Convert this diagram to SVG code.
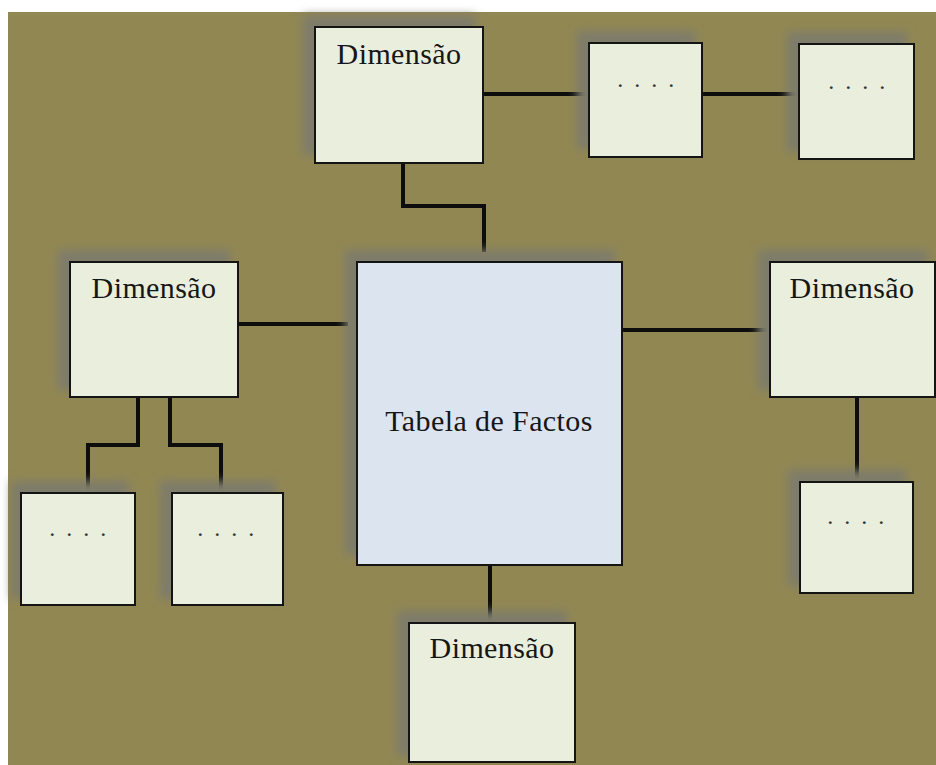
<svg xmlns="http://www.w3.org/2000/svg" width="936" height="765" viewBox="0 0 936 765">
  <defs>
    <filter id="soft" x="-30%" y="-30%" width="160%" height="160%">
      <feGaussianBlur stdDeviation="5"/>
    </filter>
  </defs>
  <style>
    .bg { fill: #918753; }
    .shadow { fill: #7e7b6b; filter: url(#soft); }
    .dim { fill: #e9eedd; stroke: #141414; stroke-width: 2; }
    .fact { fill: #dce4ef; stroke: #141414; stroke-width: 2; }
    .label { font-family: "Liberation Serif", "DejaVu Serif", serif; font-size: 30px; letter-spacing: 0.4px; fill: #161616; text-anchor: middle; }
    .dots { font-family: "Liberation Serif", "DejaVu Serif", serif; font-size: 24px; fill: #333333; text-anchor: middle; letter-spacing: 2.5px; }
    .link { fill: none; stroke: #0d0d0d; stroke-width: 4; }
  </style>

  <rect width="936" height="765" fill="#ffffff"/>
  <rect class="bg" x="8" y="12" width="928" height="753"/>

  <!-- connectors -->
  <g id="connectors">
    <polyline class="link" points="403,163 403,206 484,206 484,252"/>
    <line class="link" x1="483" y1="94" x2="589" y2="94"/>
    <line class="link" x1="702" y1="94" x2="799" y2="94"/>
    <line class="link" x1="238" y1="324" x2="348" y2="324"/>
    <line class="link" x1="622" y1="330" x2="770" y2="330"/>
    <polyline class="link" points="138,397 138,445 88,445 88,493"/>
    <polyline class="link" points="170,397 170,445 221,445 221,493"/>
    <line class="link" x1="857" y1="397" x2="857" y2="482"/>
    <line class="link" x1="490" y1="565" x2="490" y2="622"/>
  </g>

  <!-- fact table -->
  <g id="fact">
    <rect class="shadow" x="345" y="250" width="270" height="305"/>
    <rect class="fact" x="357" y="262" width="265" height="303"/>
    <text class="label" x="489" y="431">Tabela de Factos</text>
  </g>

  <!-- dimension: top -->
  <g id="dim-top">
    <rect class="shadow" x="303" y="15" width="172" height="140"/>
    <rect class="dim" x="315" y="27" width="168" height="136"/>
    <text class="label" x="399" y="64">Dimensão</text>
  </g>
  <g id="sub-top-1">
    <rect class="shadow" x="577" y="31" width="118" height="118"/>
    <rect class="dim" x="589" y="43" width="113" height="114"/>
    <text class="dots" x="647" y="87">. . . .</text>
  </g>
  <g id="sub-top-2">
    <rect class="shadow" x="787" y="32" width="120" height="120"/>
    <rect class="dim" x="799" y="44" width="115" height="115"/>
    <text class="dots" x="858" y="89">. . . .</text>
  </g>

  <!-- dimension: left -->
  <g id="dim-left">
    <rect class="shadow" x="58" y="250" width="172" height="140"/>
    <rect class="dim" x="70" y="262" width="168" height="135"/>
    <text class="label" x="154" y="298">Dimensão</text>
  </g>
  <g id="sub-left-1">
    <rect class="shadow" x="11" y="481" width="118" height="118"/>
    <rect class="dim" x="21" y="493" width="114" height="112"/>
    <text class="dots" x="79" y="536">. . . .</text>
  </g>
  <g id="sub-left-2">
    <rect class="shadow" x="160" y="481" width="116" height="118"/>
    <rect class="dim" x="172" y="493" width="111" height="112"/>
    <text class="dots" x="227" y="536">. . . .</text>
  </g>

  <!-- dimension: right -->
  <g id="dim-right">
    <rect class="shadow" x="758" y="250" width="170" height="140"/>
    <rect class="dim" x="770" y="262" width="165" height="135"/>
    <text class="label" x="852" y="298">Dimensão</text>
  </g>
  <g id="sub-right">
    <rect class="shadow" x="788" y="470" width="118" height="116"/>
    <rect class="dim" x="800" y="482" width="113" height="111"/>
    <text class="dots" x="857" y="524">. . . .</text>
  </g>

  <!-- dimension: bottom -->
  <g id="dim-bottom">
    <rect class="shadow" x="397" y="611" width="170" height="145"/>
    <rect class="dim" x="409" y="623" width="166" height="139"/>
    <text class="label" x="492" y="658">Dimensão</text>
  </g>
</svg>
